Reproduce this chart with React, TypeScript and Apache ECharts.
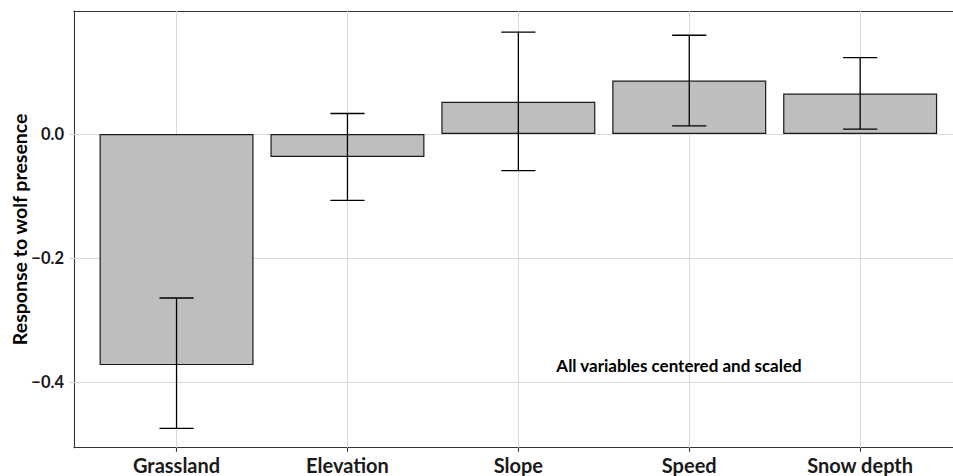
import React, { useEffect, useRef } from "react";
import * as echarts from "echarts";

const categories = ["Grassland", "Elevation", "Slope", "Speed", "Snow depth"];
const estimates = [-0.372, -0.037, 0.052, 0.086, 0.065];
const lowerCI = [-0.474, -0.107, -0.059, 0.013, 0.008];
const upperCI = [-0.264, 0.033, 0.164, 0.159, 0.123];
const yTicks = [-0.4, -0.2, 0.0];
const annotation = "All variables centered and scaled";
const yTitle = "Response to wolf presence";

export default function App() {
  const ref = useRef<HTMLDivElement>(null);
  useEffect(() => {
    const chart = echarts.init(ref.current!, null, { renderer: "svg" });
    const positions = categories.map((_, i) => i + 1);
    const gridColor = "#d9d9d9";
    chart.setOption({
      animation: false,
      textStyle: { fontFamily: "Lato" },
      grid: {
        left: 74,
        right: -9.7,
        top: 11,
        bottom: 28.3,
        outerBoundsMode: "none",
        containLabel: false,
        show: false,
      },
      xAxis: [
        {
          type: "value",
          min: 0.4,
          max: 5.6,
          axisLine: { show: true, onZero: false, lineStyle: { color: "#333333", width: 1.1 } },
          axisTick: { show: true, customValues: positions, length: 4, lineStyle: { color: "#333333", width: 1.1 } },
          axisLabel: {
            customValues: positions,
            formatter: (v: number) => categories[Math.round(v) - 1] ?? "",
            fontSize: 20,
            fontWeight: "bold",
            color: "#1a1a1a",
            margin: 7,
            fontFamily: "Lato",
          },
          splitLine: { show: false },
        },
        {
          type: "value",
          position: "top",
          min: 0.4,
          max: 5.6,
          axisLine: { show: true, onZero: false, lineStyle: { color: "#333333", width: 1.1 } },
          axisTick: { show: false },
          axisLabel: { show: false },
          splitLine: { show: false },
        },
      ],
      yAxis: {
        type: "value",
        min: -0.505,
        max: 0.198,
        name: yTitle,
        nameLocation: "middle",
        nameRotate: 90,
        nameGap: 45,
        nameMoveOverlap: false,
        nameTextStyle: { fontSize: 19.5, fontWeight: "bold", color: "#000000", fontFamily: "Lato" },
        axisLine: { show: true, onZero: false, lineStyle: { color: "#333333", width: 1.1 } },
        axisTick: { show: true, customValues: yTicks, length: 4, lineStyle: { color: "#cccccc", width: 1.1 } },
        axisLabel: {
          customValues: yTicks,
          formatter: (v: number) => (v < -1e-9 ? "\u2212" : "") + Math.abs(v).toFixed(1),
          fontSize: 16.5,
          fontWeight: "bold",
          color: "#1a1a1a",
          margin: 10,
          fontFamily: "Lato",
        },
        splitLine: { show: false },
      },
      series: [
        {
          type: "line",
          xAxisIndex: 0,
          data: [],
          z: 1,
          silent: true,
          markLine: {
            silent: true,
            z: 1,
            symbol: "none",
            label: { show: false },
            emphasis: { disabled: true },
            lineStyle: { color: gridColor, width: 1, type: "solid" },
            data: [
              ...positions.map((p) => ({ xAxis: p })),
              ...yTicks.map((t) => ({ yAxis: t })),
            ],
          },
        },
        {
          type: "bar",
          xAxisIndex: 0,
          data: positions.map((p, i) => [p, estimates[i]]),
          barWidth: 154,
          itemStyle: { color: "#bebebe", borderColor: "#1a1a1a", borderWidth: 1.2 },
          z: 2,
        },
        {
          type: "custom",
          xAxisIndex: 0,
          data: positions.map((p, i) => [p, lowerCI[i], upperCI[i]]),
          encode: { x: 0, y: [1, 2] },
          z: 3,
          clip: false,
          renderItem: (params: any, api: any) => {
            const x = api.value(0);
            const lo = api.coord([x, api.value(1)]);
            const hi = api.coord([x, api.value(2)]);
            const half = api.size([0.1, 0])[0];
            const style = { stroke: "#000000", lineWidth: 1.3 };
            return {
              type: "group",
              children: [
                { type: "line", shape: { x1: lo[0], y1: lo[1], x2: hi[0], y2: hi[1] }, style },
                { type: "line", shape: { x1: hi[0] - half, y1: hi[1], x2: hi[0] + half, y2: hi[1] }, style },
                { type: "line", shape: { x1: lo[0] - half, y1: lo[1], x2: lo[0] + half, y2: lo[1] }, style },
              ],
            };
          },
        },
      ],
      graphic: [
        {
          type: "text",
          x: 679,
          y: 365,
          z: 10,
          style: {
            text: annotation,
            fontSize: 17,
            fontWeight: "bold",
            fontFamily: "Lato",
            fill: "#000000",
            align: "center",
            verticalAlign: "middle",
          },
        },
      ],
    });
    return () => chart.dispose();
  }, []);
  return (
    <div
      ref={ref}
      style={{ position: "fixed", left: 0, top: 0, width: 953, height: 476, background: "#ffffff" }}
    />
  );
}
